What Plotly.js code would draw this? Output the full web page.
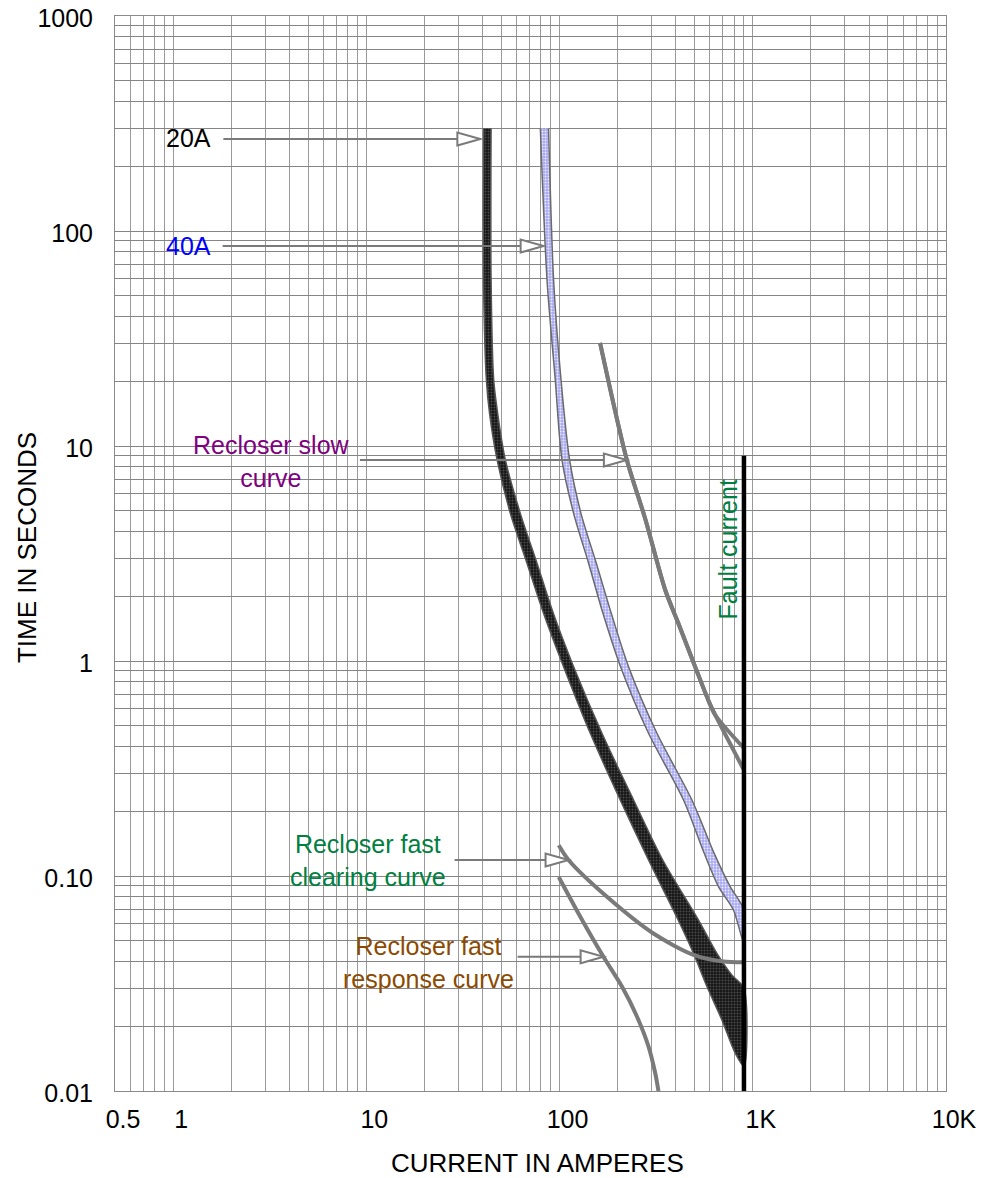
<!DOCTYPE html>
<html>
<head>
<meta charset="utf-8">
<script src="https://cdn.plot.ly/plotly-3.0.1.min.js"></script>
<style>html,body{margin:0;padding:0;background:#fff;}#chart{width:981px;height:1178px;}</style>
</head>
<body>
<div id="chart"></div>
<script>
// ---------------- DATA ----------------
// 20A fuse: minimum-melt (left edge) and total-clearing (right edge) curves
const fuse20MinCurrent = [40.4, 40.4, 41.8, 43.4, 47.5, 55.6, 67.8, 82.6, 104.9, 144.2, 206, 288.7, 411, 493, 579, 692, 811, 900];
const fuse20MinTime    = [300, 59.2, 20.3, 14.2, 8.61, 4.86, 2.85, 1.667, 0.941, 0.461, 0.2257, 0.1187, 0.0624, 0.0437, 0.0306, 0.0214, 0.0150, 0.0130];
const fuse20ClearCurrent = [44.2, 44.2, 45.6, 47.8, 52.4, 62.6, 76.4, 92.8, 118.2, 165.7, 241.5, 341.9, 523.7, 652, 780, 900];
const fuse20ClearTime    = [300, 59.2, 20.3, 14.2, 8.61, 4.86, 2.85, 1.667, 0.941, 0.461, 0.2257, 0.1187, 0.0624, 0.0437, 0.0346, 0.030];

// 40A fuse
const fuse40MinCurrent = [79.5, 86.1, 95.0, 102.9, 118.2, 141.3, 167.7, 206.8, 288.7, 438, 560.6, 664.6, 794, 900];
const fuse40MinTime    = [300, 59.2, 20.3, 8.61, 4.86, 2.85, 1.667, 0.941, 0.461, 0.2257, 0.1275, 0.0892, 0.0695, 0.0486];
const fuse40ClearCurrent = [87.7, 93.1, 101.7, 112.7, 129, 154.9, 185.1, 227.5, 319, 484, 631, 764, 900];
const fuse40ClearTime    = [300, 59.2, 20.3, 8.61, 4.86, 2.85, 1.667, 0.941, 0.461, 0.2257, 0.1275, 0.0892, 0.0695];

// Recloser slow curve (splits into two branches near the fault current)
const slowCurrentA = [162, 223, 277, 352.2, 411.3, 503.6, 587.8, 639, 900];
const slowTimeA    = [30.2, 8.61, 4.61, 2.139, 1.502, 0.938, 0.659, 0.561, 0.393];
const slowCurrentB = [162, 223, 277, 352.2, 411.3, 503.6, 587.8, 639, 900];
const slowTimeB    = [30.2, 8.61, 4.61, 2.139, 1.502, 0.938, 0.659, 0.561, 0.311];

// Recloser fast clearing curve
const fastClearCurrent = [99, 111.3, 175.9, 306, 493, 705, 900];
const fastClearTime    = [0.139, 0.1187, 0.080, 0.054, 0.043, 0.040, 0.0397];

// Recloser fast response curve
const fastRespCurrent = [99, 128, 169, 210.3, 251.4, 288.7, 312.7, 325];
const fastRespTime    = [0.099, 0.0647, 0.042, 0.0306, 0.0222, 0.01607, 0.01209, 0.0100];

// Fault current line
const faultCurrent = [900, 900];
const faultTime    = [0.01, 9];

// Callout labels and the points their arrows touch
const arrowLabels = ['20A', '40A', 'Recloser slow<br>curve', 'Recloser fast<br>clearing curve', 'Recloser fast<br>response curve'];
const arrowTipCurrent = [38.9, 82.7, 223, 111.3, 169];
const arrowTipTime    = [268, 85.2, 8.61, 0.1187, 0.0421];

// Axis tick labels
const xLabelVals = [0.5, 1, 10, 100, 1000, 10000];
const xLabelText = ['0.5', '1', '10', '100', '1K', '10K'];
const yLabelVals = [0.01, 0.1, 1, 10, 100, 1000];
const yLabelText = ['0.01', '0.10', '1', '10', '100', '1000'];

// ---------------- BUILD ----------------
function gridVals(lo, hi) {
  const out = [];
  for (let d = -3; d <= 4; d++) {
    for (let m = 1; m <= 9; m++) {
      const v = +(m * Math.pow(10, d)).toPrecision(6);
      if (v >= lo * 0.999 && v <= hi * 1.001) out.push(v);
    }
  }
  return out;
}
function labelsFor(vals, lv, lt) {
  return vals.map(v => {
    const i = lv.findIndex(x => Math.abs(x - v) / x < 1e-6);
    return i >= 0 ? lt[i] : '';
  });
}
const xGrid = gridVals(0.5, 10000);
const yGrid = gridVals(0.01, 1000);

function band(minX, minY, clrX, clrY) {
  return {
    x: minX.concat(clrX.slice().reverse()),
    y: minY.concat(clrY.slice().reverse())
  };
}
const b20 = band(fuse20MinCurrent, fuse20MinTime, fuse20ClearCurrent, fuse20ClearTime);
const b40 = band(fuse40MinCurrent, fuse40MinTime, fuse40ClearCurrent, fuse40ClearTime);

const FONT = 'Liberation Sans, Arial, Helvetica, sans-serif';
const curveGray = '#7a7a7a';

const traces = [
  { x: b40.x, y: b40.y, type: 'scatter', mode: 'lines', fill: 'toself',
    fillcolor: '#aeaef4',
    fillpattern: { shape: '.', bgcolor: '#a8a8f2', fgcolor: '#ececff', size: 3, solidity: 0.35 },
    line: { color: '#6a6a6a', width: 1.5, shape: 'spline', smoothing: 0.8 }, hoverinfo: 'skip' },
  { x: b20.x, y: b20.y, type: 'scatter', mode: 'lines', fill: 'toself',
    fillcolor: '#1c1c1c',
    fillpattern: { shape: '.', bgcolor: '#161616', fgcolor: '#4a4a4a', size: 3, solidity: 0.35 },
    line: { color: '#555', width: 1.5, shape: 'spline', smoothing: 0.8 }, hoverinfo: 'skip' },
  { x: slowCurrentA, y: slowTimeA, type: 'scatter', mode: 'lines',
    line: { color: curveGray, width: 4, shape: 'spline', smoothing: 0.8 } },
  { x: slowCurrentB, y: slowTimeB, type: 'scatter', mode: 'lines',
    line: { color: curveGray, width: 4, shape: 'spline', smoothing: 0.8 } },
  { x: fastClearCurrent, y: fastClearTime, type: 'scatter', mode: 'lines',
    line: { color: curveGray, width: 4, shape: 'spline', smoothing: 0.8 } },
  { x: fastRespCurrent, y: fastRespTime, type: 'scatter', mode: 'lines',
    line: { color: curveGray, width: 4, shape: 'spline', smoothing: 0.8 } },
  { x: faultCurrent, y: faultTime, type: 'scatter', mode: 'lines',
    line: { color: '#000', width: 4.5 } }
];

const arrowLen = [257, 321, 267, 114, 86];
const labelGap = [10, 10, 8, 7, 2];
const labelYShift = [1, 0, -2, -1, -6];
const labelColors = ['#000000', '#0000ff', '#800080', '#008040', '#8c4a00'];

const shapes = arrowTipCurrent.map((xv, i) => ({
  type: 'path', xref: 'x', yref: 'y',
  xsizemode: 'pixel', ysizemode: 'pixel',
  xanchor: xv, yanchor: arrowTipTime[i],
  path: 'M' + (-arrowLen[i]) + ',0 L-23,0 M-23,-6.5 L0,0 L-23,6.5 Z',
  line: { color: '#7a7a7a', width: 2 },
  fillcolor: '#ffffff', layer: 'above'
}));

const annotations = arrowLabels.map((t, i) => ({
  x: Math.log10(arrowTipCurrent[i]), y: Math.log10(arrowTipTime[i]),
  xref: 'x', yref: 'y', text: t, showarrow: false,
  xanchor: 'right', yanchor: 'middle', align: 'center',
  xshift: -(arrowLen[i] + labelGap[i]), yshift: labelYShift[i],
  font: { family: FONT, size: 25, color: labelColors[i] }
}));
annotations.push({
  x: Math.log10(faultCurrent[0]), y: Math.log10(3.3), xref: 'x', yref: 'y',
  text: 'Fault current', showarrow: false, textangle: -90,
  xshift: -16, font: { family: FONT, size: 25, color: '#008040' }
});
// axis titles
annotations.push({
  xref: 'paper', yref: 'paper', x: 0.509, y: -0.067, xanchor: 'center', yanchor: 'middle',
  text: 'CURRENT IN AMPERES', showarrow: false, font: { family: FONT, size: 26, color: '#000' }
});
annotations.push({
  xref: 'paper', yref: 'paper', x: -0.1052, y: 0.5056, xanchor: 'center', yanchor: 'middle',
  text: 'TIME IN SECONDS', showarrow: false, textangle: -90, font: { family: FONT, size: 26, color: '#000' }
});

const layout = {
  width: 981, height: 1178,
  margin: { l: 115, r: 35, t: 16, b: 87 },
  paper_bgcolor: '#fff', plot_bgcolor: '#fff',
  showlegend: false,
  font: { family: FONT, size: 24, color: '#000' },
  xaxis: {
    type: 'log', range: [Math.log10(0.5), 4],
    tickmode: 'array', tickvals: xGrid, ticktext: labelsFor(xGrid, xLabelVals, xLabelText),
    ticks: '', ticklabelshift: 8, ticklabelstandoff: 6,
    showgrid: true, gridcolor: '#9a9a9a', gridwidth: 1,
    showline: true, linecolor: '#8a8a8a', linewidth: 1, mirror: true,
    zeroline: false, tickfont: { family: FONT, size: 25, color: '#000' }
  },
  yaxis: {
    type: 'log', range: [-2, 3],
    tickmode: 'array', tickvals: yGrid, ticktext: labelsFor(yGrid, yLabelVals, yLabelText),
    ticks: '', ticklabelshift: 2, ticklabelstandoff: 16,
    showgrid: true, gridcolor: '#858585', gridwidth: 1,
    showline: true, linecolor: '#8a8a8a', linewidth: 1, mirror: true,
    zeroline: false, tickfont: { family: FONT, size: 25, color: '#000' }
  },
  shapes: shapes,
  annotations: annotations
};

Plotly.newPlot('chart', traces, layout, { displayModeBar: false, staticPlot: true });
</script>
</body>
</html>
